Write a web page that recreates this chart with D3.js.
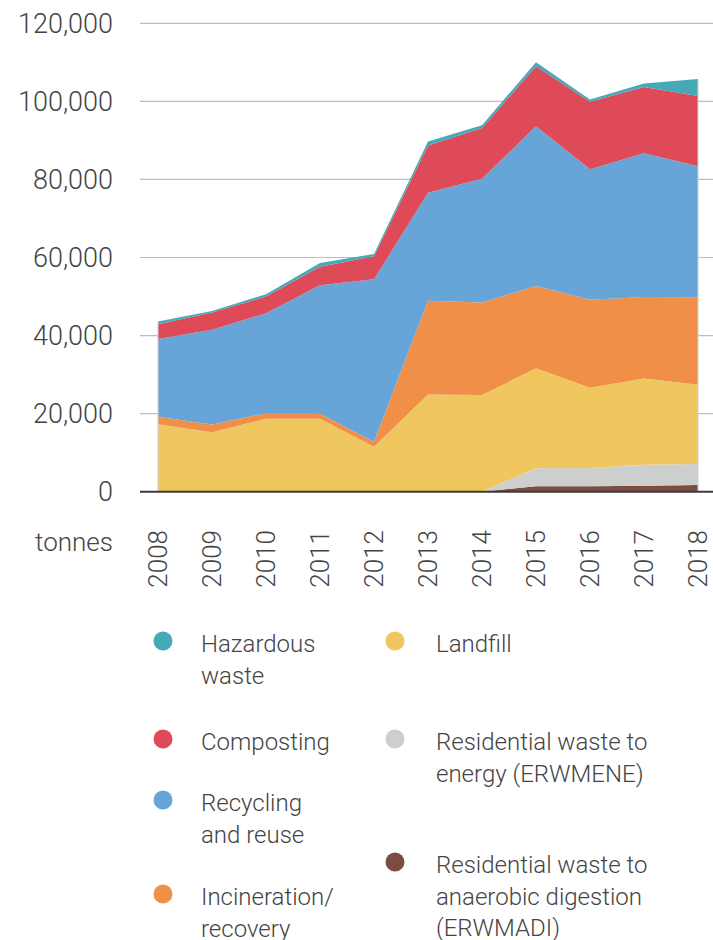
<!DOCTYPE html>
<html>
<head>
<meta charset="utf-8">
<script src="https://cdn.jsdelivr.net/npm/d3@7"></script>
<style>
  body { margin: 0; background: #fff; }
  svg text { font-family: Roboto, "Liberation Sans", sans-serif; font-weight: 300; fill: #444; }
</style>
</head>
<body>
<svg id="chart" width="713" height="940"></svg>
<script>
// years on the x axis
var years = [2008, 2009, 2010, 2011, 2012, 2013, 2014, 2015, 2016, 2017, 2018];

// tonnes per stream
var erwmadi     = [0, 0, 0, 0, 0, 0, 0, 1400, 1400, 1500, 1700];
var erwmene     = [0, 0, 0, 0, 0, 0, 0, 4600, 4700, 5400, 5400];
var landfill    = [17300, 15200, 18700, 18700, 11500, 24900, 24800, 25600, 20500, 22100, 20300];
var incineration = [1900, 2000, 1400, 1300, 1300, 24000, 23700, 21100, 22600, 20900, 22400];
var recycling   = [19900, 24300, 25600, 32900, 41600, 27700, 31700, 40900, 33400, 36800, 33600];
var composting  = [3800, 4400, 4300, 4700, 5900, 12100, 13000, 15400, 17300, 17000, 18000];
var hazardous   = [700, 400, 600, 1000, 600, 1000, 700, 1000, 600, 900, 4300];

var yTicks = [0, 20000, 40000, 60000, 80000, 100000, 120000];

// stack order, bottom to top
var keys = ["erwmadi", "erwmene", "landfill", "incineration", "recycling", "composting", "hazardous"];
var colors = {
  hazardous: "#45a9b8",
  composting: "#de4a57",
  recycling: "#67a5d8",
  incineration: "#ef8f48",
  landfill: "#efc75e",
  erwmene: "#cdcfce",
  erwmadi: "#7a4c42"
};

// legend text
var legendKeys = ["hazardous", "composting", "recycling", "incineration", "landfill", "erwmene", "erwmadi"];
var legendLabels = [
  ["Hazardous", "waste"],
  ["Composting"],
  ["Recycling", "and reuse"],
  ["Incineration/", "recovery"],
  ["Landfill"],
  ["Residential waste to", "energy (ERWMENE)"],
  ["Residential waste to", "anaerobic digestion", "(ERWMADI)"]
];

var table = years.map(function (y, i) {
  return {
    year: y,
    erwmadi: erwmadi[i],
    erwmene: erwmene[i],
    landfill: landfill[i],
    incineration: incineration[i],
    recycling: recycling[i],
    composting: composting[i],
    hazardous: hazardous[i]
  };
});

var svg = d3.select("#chart");

var x = d3.scaleLinear().domain([2008, 2018]).range([158, 698]);
var y = d3.scaleLinear().domain([0, 120000]).range([491.7, 23.3]);

// gridlines
svg.append("g")
  .selectAll("line")
  .data(yTicks.filter(function (d) { return d > 0; }))
  .join("line")
  .attr("x1", 140).attr("x2", 713)
  .attr("y1", function (d) { return y(d); })
  .attr("y2", function (d) { return y(d); })
  .attr("stroke", "#bdbdbd")
  .attr("stroke-width", 1.2);

// y tick labels
svg.append("g")
  .selectAll("text")
  .data(yTicks)
  .join("text")
  .attr("x", 113)
  .attr("y", function (d) { return y(d); })
  .attr("dy", "0.36em")
  .attr("text-anchor", "end")
  .style("font-size", "27px")
  .text(d3.format(","));

// stacked areas
var series = d3.stack().keys(keys)(table);
var area = d3.area()
  .x(function (d) { return x(d.data.year); })
  .y0(function (d) { return y(d[0]); })
  .y1(function (d) { return y(d[1]); });

svg.append("g")
  .selectAll("path")
  .data(series)
  .join("path")
  .attr("fill", function (d) { return colors[d.key]; })
  .attr("d", area);

// faint edges at both ends of the area
var topSeries = series[series.length - 1];
svg.append("g")
  .selectAll("line")
  .data([topSeries[0], topSeries[topSeries.length - 1]])
  .join("line")
  .attr("x1", function (d) { return x(d.data.year); })
  .attr("x2", function (d) { return x(d.data.year); })
  .attr("y1", y(0))
  .attr("y2", function (d) { return y(d[1]); })
  .attr("stroke", "#cfcfcf")
  .attr("stroke-width", 1);

// baseline
svg.append("line")
  .attr("x1", 140).attr("x2", 713)
  .attr("y1", y(0)).attr("y2", y(0))
  .attr("stroke", "#3a3a3a")
  .attr("stroke-width", 2);

// x labels, rotated
svg.append("g")
  .selectAll("text")
  .data(years)
  .join("text")
  .attr("transform", function (d) { return "translate(" + (x(d) + 9) + ",530) rotate(-90)"; })
  .attr("text-anchor", "end")
  .style("font-size", "26px")
  .text(function (d) { return d; });

svg.append("text")
  .attr("x", 113).attr("y", 551)
  .attr("text-anchor", "end")
  .style("font-size", "26px")
  .text("tonnes");

// legend
var legendPos = [
  [163, 652], [163, 750], [163, 811], [163, 905],
  [395, 652], [395, 750], [395, 873]
];
var legend = svg.append("g")
  .selectAll("g")
  .data(legendKeys)
  .join("g")
  .attr("transform", function (d, i) { return "translate(" + legendPos[i][0] + "," + legendPos[i][1] + ")"; });

legend.append("circle")
  .attr("cx", 0).attr("cy", -11).attr("r", 9.5)
  .attr("fill", function (d) { return colors[d]; });

legend.append("text")
  .style("font-size", "24px")
  .attr("x", function (d, i) { return i < 4 ? 38 : 41; })
  .selectAll("tspan")
  .data(function (d, i) { return legendLabels[i].map(function (t) { return { t: t, x: i < 4 ? 38 : 41 }; }); })
  .join("tspan")
  .attr("x", function (d) { return d.x; })
  .attr("dy", function (d, i) { return i === 0 ? 0 : 31.5; })
  .text(function (d) { return d.t; });
</script>
</body>
</html>
